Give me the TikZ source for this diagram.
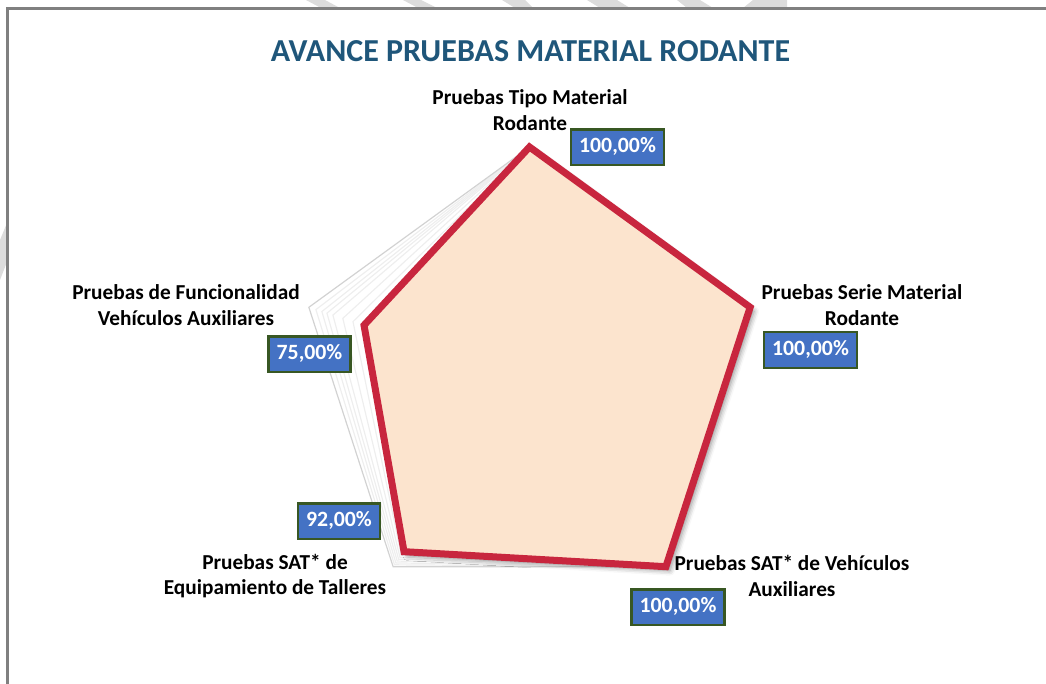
\documentclass[tikz,border=0pt]{standalone}
\usepackage{fontspec}
\setmainfont{Carlito}
\usetikzlibrary{shadows.blur}
\definecolor{titleblue}{RGB}{31,86,122}
\definecolor{seriesred}{RGB}{200,38,62}
\definecolor{seriesfill}{RGB}{252,228,206}
\definecolor{boxblue}{RGB}{68,114,196}
\definecolor{boxgreen}{RGB}{56,87,35}
\definecolor{framegray}{RGB}{128,128,128}
\definecolor{markgray}{RGB}{220,220,220}

\begin{document}
\begin{tikzpicture}
      [ x = 1pt, y = -1pt
      , title/.style =
        { text=titleblue, font=\fontsize{32}{36}\selectfont\bfseries }
      , axislabel/.style =
        { align=center, font=\fontsize{21.3}{25.5}\selectfont\bfseries }
      , valuebox/.style =
        { fill=boxblue, draw=boxgreen, line width=2.5pt, text=white
        , font=\fontsize{21.8}{25}\selectfont\bfseries
        , inner xsep=8pt, inner ysep=8.5pt, text height=14.5pt, text depth=4pt }
      , ghost/.style =
        { draw=gray!13, line width=1.2pt, line join=miter }
      , outerghost/.style =
        { ghost, draw=gray!35 }
      , series/.style =
        { fill=seriesfill, draw=seriesred, line width=7pt, line join=miter }
      , watermark/.style =
        { fill=markgray }
      , frame/.style =
        { draw=framegray, line width=3pt }
      ]
      \useasboundingbox (0,0) rectangle (1046,684);
      % watermark bits
      \fill [watermark] (306,0) -- (325,0) -- (340,8) -- (321,8) -- cycle;
      \fill [watermark] (403,0) -- (421,0) -- (437,8) -- (418,8) -- cycle;
      \fill [watermark] (502,0) -- (525,0) -- (533,8) -- (515,8) -- cycle;
      \fill [watermark] (587,0) -- (617,0) -- (630,8) -- (600,8) -- cycle;
      \fill [watermark] (677,0) -- (700,0) -- (713,8) -- (687,8) -- cycle;
      \fill [watermark] (753,0) -- (787,0) -- (787,8) -- (743,8) -- cycle;
      \fill [watermark] (0,240) -- (7,223) -- (7,262) -- (0,280) -- cycle;
      \draw [frame] (7,684) -- (7,9) -- (1046,9);
      \node [title] (title) at (530.5,51) {AVANCE PRUEBAS MATERIAL RODANTE};
      \begin{scope}[shift={(529.5,379)}]
        \coordinate (center) at (0,0);
        % earlier values
        \foreach \l/\b in {.80/.94, .846/.95, .891/.96, .918/.97, .941/.98, .968/.99}
          \draw [ghost] (-90:232) -- (-18:232) -- (54:232)
            -- (126:{\b*232}) -- (198:{\l*232}) -- cycle;
        \draw [outerghost] (-90:232) -- (-18:232) -- (54:232)
          -- (126:232) -- (198:232) -- cycle;
        % current values
        \filldraw [series, blur shadow={shadow xshift=4pt, shadow yshift=-4pt, shadow blur radius=5pt, shadow opacity=45}]
          (-90:232) coordinate (vtop) -- (-18:232) coordinate (vright)
          -- (54:232) coordinate (vbright) -- (126:{.92*232}) coordinate (vbleft)
          -- (198:{.75*232}) coordinate (vleft) -- cycle;
      \end{scope}
      \node [axislabel] (lbltop) at (530,110) {Pruebas Tipo Material\\Rodante};
      \node [axislabel] (lblright) at (862,305) {Pruebas Serie Material\\Rodante};
      \node [axislabel] (lblbright) at (792,576) {Pruebas SAT* de Vehículos\\Auxiliares};
      \node [axislabel] (lblbleft) at (275,576) {Pruebas SAT* de\\Equipamiento de Talleres};
      \node [axislabel] (lblleft) at (186,305) {Pruebas de Funcionalidad\\Vehículos Auxiliares};
      \node [valuebox] (valtop) at (617.5,147.5) {100,00\%};
      \node [valuebox] (valright) at (810.5,350) {100,00\%};
      \node [valuebox] (valbright) at (678,607) {100,00\%};
      \node [valuebox] (valbleft) at (339,521) {92,00\%};
      \node [valuebox] (valleft) at (309.5,354) {75,00\%};
\end{tikzpicture}
\end{document}
